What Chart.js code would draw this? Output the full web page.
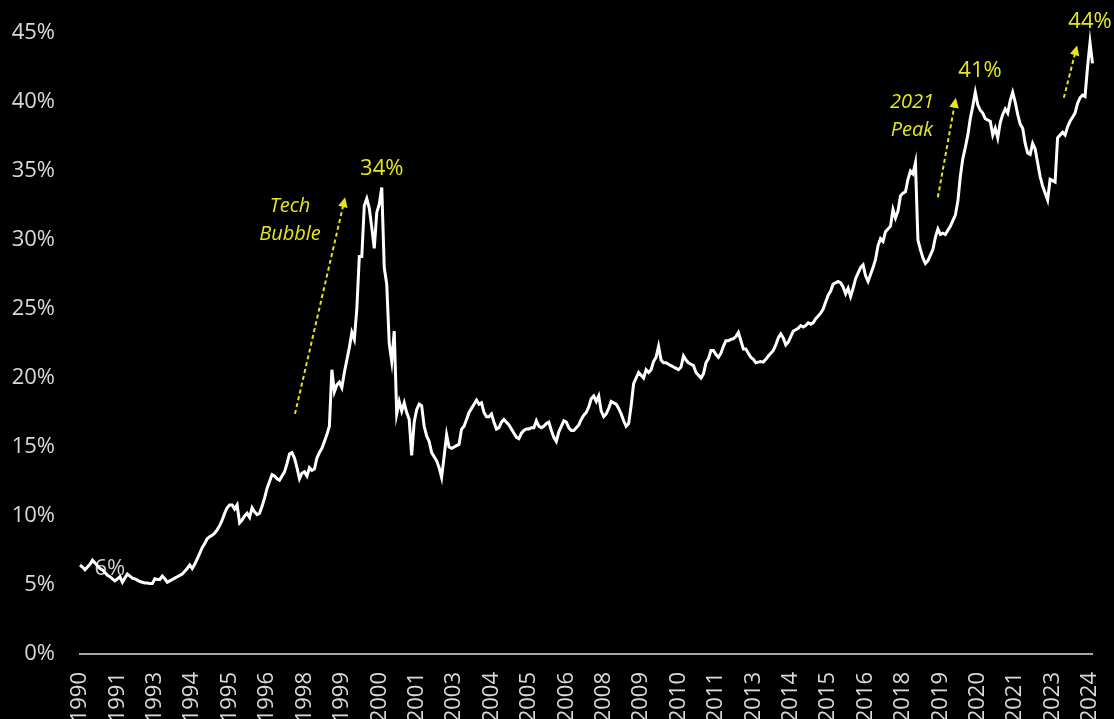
<!DOCTYPE html>
<html lang="en">
  <head>
    <meta charset="UTF-8" />
    <meta name="viewport" content="width=device-width, initial-scale=1.0" />
    <script src="https://cdn.jsdelivr.net/npm/chart.js"></script>
    <title>Share chart</title>
    <style>
      html, body { margin: 0; padding: 0; background: #000; overflow: hidden; }
      #wrap { width: 1114px; height: 730px; position: relative; }
    </style>
  </head>
  <body>
    <div id="wrap"><canvas id="myChart"></canvas></div>
    <script>
      // monthly values (%) starting Jul 1990
      const startYear = 1990;
      const startMonth = 6; // 0 = Jan
      const labelEvery = 15;

      const share1990s = [
        6.45, 6.3, 6.1, 6.3, 6.5, 6.8, 6.6, 6.4, 6.2, 6.1,
        5.9, 5.7, 5.6, 5.45, 5.3, 5.45, 5.6, 5.2, 5.5, 5.8,
        5.65, 5.5, 5.45, 5.35, 5.25, 5.2, 5.15, 5.15, 5.1, 5.1,
        5.45, 5.4, 5.4, 5.65, 5.45, 5.2, 5.3, 5.4, 5.5, 5.6,
        5.7, 5.8, 6.0, 6.2, 6.45, 6.2, 6.5, 6.9, 7.3, 7.7,
        8.0, 8.35, 8.5, 8.6, 8.75, 9.0, 9.3, 9.7, 10.2, 10.6,
        10.8, 10.8, 10.5, 10.8, 9.5, 9.7, 10.0, 10.2, 9.9, 10.6,
        10.3, 10.1, 10.2, 10.7, 11.3, 12.0, 12.5, 13.0, 12.9, 12.7,
        12.6, 12.9, 13.2, 13.8, 14.5, 14.6, 14.2, 13.5, 12.7, 13.1,
        13.2, 12.9, 13.5, 13.3, 13.4, 14.2, 14.6, 14.9, 15.4, 15.9,
        16.5, 20.6, 19.0, 19.5, 19.7, 19.3, 20.4, 21.3, 22.2, 23.3,
        22.8, 25.0, 28.8, 28.8
      ];
      const share2000s = [
        32.5, 33.0, 32.3, 30.9, 29.4, 32.0,
        32.6, 33.8, 28.0, 26.8, 22.5, 21.2, 23.4, 17.4, 18.3, 17.6,
        18.2, 17.5, 17.0, 14.4, 16.8, 17.7, 18.1, 18.0, 16.5, 15.8,
        15.4, 14.6, 14.3, 14.0, 13.5, 12.8, 14.3, 15.9, 15.0, 14.9,
        15.0, 15.1, 15.2, 16.3, 16.5, 17.0, 17.5, 17.8, 18.1, 18.4,
        18.1, 18.2, 17.5, 17.2, 17.2, 17.4, 16.8, 16.3, 16.4, 16.8,
        17.0, 16.8, 16.6, 16.3, 16.0, 15.7, 15.6, 16.0, 16.2, 16.3,
        16.3, 16.4, 16.4, 16.9, 16.5, 16.4, 16.5, 16.7, 16.8, 16.2,
        15.7, 15.4, 16.1, 16.5, 16.9, 16.8, 16.4, 16.2, 16.2, 16.4,
        16.6, 17.0, 17.3, 17.5, 17.9, 18.5, 18.7, 18.3, 18.7, 17.6,
        17.2, 17.4, 17.8, 18.3, 18.2, 18.1, 17.8, 17.4, 16.9, 16.5,
        16.7, 18.0, 19.6, 20.0, 20.4, 20.2, 20.0, 20.6, 20.4, 20.6,
        21.2, 21.5, 22.3, 21.3
      ];
      const share2010s = [
        21.1, 21.1, 21.0, 20.9, 20.8, 20.7,
        20.6, 20.8, 21.6, 21.3, 21.1, 21.0, 20.9, 20.4, 20.2, 20.0,
        20.3, 21.1, 21.4, 22.0, 22.0, 21.7, 21.5, 21.8, 22.3, 22.7,
        22.7, 22.8, 22.85, 23.0, 23.3, 22.7, 22.1, 22.1, 21.8, 21.5,
        21.35, 21.1, 21.15, 21.2, 21.15, 21.35, 21.6, 21.8, 22.0, 22.4,
        22.9, 23.2, 22.9, 22.4, 22.6, 23.0, 23.4, 23.5, 23.6, 23.8,
        23.7, 23.8, 24.0, 23.9, 24.0, 24.3, 24.5, 24.7, 25.0, 25.5,
        26.0, 26.3, 26.8, 26.9, 27.0, 26.9, 26.6, 26.1, 26.5, 25.9,
        26.5, 27.2, 27.6, 28.0, 28.2, 27.4, 27.0, 27.5, 28.0, 28.6,
        29.6, 30.1, 29.9, 30.6, 30.8, 31.0, 32.2, 31.6, 32.1, 33.2,
        33.4, 33.5, 34.4, 35.0, 34.8, 35.6, 30.0, 29.3, 28.7, 28.3,
        28.5, 28.9, 29.3, 30.2, 30.8, 30.4, 30.5, 30.4, 30.7, 31.0,
        31.4, 31.8, 32.8, 34.6
      ];
      const share2020s = [
        35.9, 36.7, 37.6, 38.8, 39.7, 40.7,
        39.8, 39.4, 39.2, 38.8, 38.7, 38.6, 37.6, 38.1, 37.4, 38.5,
        39.1, 39.5, 39.2, 40.1, 40.7, 40.0, 39.1, 38.4, 38.1, 37.0,
        36.3, 36.2, 37.0, 36.6, 35.6, 34.6, 33.9, 33.4, 32.9, 34.4,
        34.3, 34.2, 37.4, 37.6, 37.8, 37.6, 38.2, 38.6, 38.9, 39.2,
        39.9, 40.3, 40.5, 40.4, 42.5, 44.3, 42.8
      ];
      const values = share1990s.concat(share2000s, share2010s, share2020s);

      const labels = [];
      for (let k = 0; k < values.length; k++) {
        labels.push(String(startYear + Math.floor((startMonth + k) / 12)));
      }

      // annotations, placed in data units (month index, percent)
      const notes = [
        { lines: ["34%"], i: 121, v: 35.2, italic: false },
        { lines: ["Tech", "Bubble"], i: 84.2, v: 31.4, italic: true },
        { lines: ["41%"], i: 360.9, v: 42.3, italic: false },
        { lines: ["2021", "Peak"], i: 333.6, v: 39.0, italic: true },
        { lines: ["44%"], i: 405, v: 45.8, italic: false }
      ];
      const arrows = [
        { i0: 86.2, v0: 17.4, i1: 106.3, v1: 33.1 },
        { i0: 344, v0: 33.1, i1: 351.2, v1: 40.3 },
        { i0: 394.5, v0: 40.3, i1: 399.8, v1: 44.1 }
      ];
      const startNote = { text: "6%", i: 12, v: 6.2 };

      const yellow = "#e6e619";
      const grey = "#d9d9d9";
      const fam = '"Open Sans", sans-serif';

      const notesPlugin = {
        id: "notes",
        beforeDatasetsDraw(chart) {
          const { ctx, scales } = chart;
          ctx.save();
          ctx.fillStyle = "#cfcfcf";
          ctx.font = "22px " + fam;
          ctx.textAlign = "center";
          ctx.textBaseline = "middle";
          ctx.fillText(startNote.text, scales.x.getPixelForValue(startNote.i), scales.y.getPixelForValue(startNote.v));
          ctx.restore();
        },
        afterDatasetsDraw(chart) {
          const { ctx, scales } = chart;
          const x = scales.x, y = scales.y;
          ctx.save();
          ctx.fillStyle = yellow;
          ctx.strokeStyle = yellow;
          ctx.textAlign = "center";
          ctx.textBaseline = "middle";
          notes.forEach((n) => {
            ctx.font = (n.italic ? "italic 20px " : "22px ") + fam;
            const px = x.getPixelForValue(n.i);
            const py = y.getPixelForValue(n.v);
            const lh = 28;
            n.lines.forEach((t, k) => {
              ctx.fillText(t, px, py + (k - (n.lines.length - 1) / 2) * lh);
            });
          });
          arrows.forEach((a) => {
            const x0 = x.getPixelForValue(a.i0), y0 = y.getPixelForValue(a.v0);
            const x1 = x.getPixelForValue(a.i1), y1 = y.getPixelForValue(a.v1);
            const ang = Math.atan2(y1 - y0, x1 - x0);
            const head = 11;
            ctx.lineWidth = 2;
            ctx.setLineDash([4, 3]);
            ctx.beginPath();
            ctx.moveTo(x0, y0);
            ctx.lineTo(x1 - Math.cos(ang) * head * 0.8, y1 - Math.sin(ang) * head * 0.8);
            ctx.stroke();
            ctx.setLineDash([]);
            ctx.beginPath();
            ctx.moveTo(x1, y1);
            ctx.lineTo(x1 - head * Math.cos(ang - 0.45), y1 - head * Math.sin(ang - 0.45));
            ctx.lineTo(x1 - head * Math.cos(ang + 0.45), y1 - head * Math.sin(ang + 0.45));
            ctx.closePath();
            ctx.fill();
          });
          ctx.restore();
        }
      };

      new Chart(document.getElementById("myChart"), {
        type: "line",
        data: {
          labels: labels,
          datasets: [
            {
              data: values,
              borderColor: "#ffffff",
              borderWidth: 3,
              pointRadius: 0,
              tension: 0,
              clip: false
            }
          ]
        },
        options: {
          responsive: true,
          maintainAspectRatio: false,
          animation: false,
          layout: { padding: { left: 8, right: 0, top: 33, bottom: 0 } },
          plugins: { legend: { display: false }, tooltip: { enabled: false } },
          scales: {
            x: {
              grid: { display: false, drawTicks: false },
              border: { display: true, color: "#a6a6a6", width: 2 },
              afterFit: (s) => {
                s.height = 76;
                s.paddingLeft = 0;
                s.paddingRight = 21.5;
              },
              ticks: {
                color: grey,
                font: { family: fam, size: 22 },
                autoSkip: false,
                minRotation: 90,
                maxRotation: 90,
                padding: 18,
                callback: function (val, idx) {
                  return idx % labelEvery === 0 ? this.getLabelForValue(val) : "";
                }
              }
            },
            y: {
              min: 0,
              max: 45,
              grid: { display: false, drawTicks: false },
              border: { display: false },
              afterFit: (s) => {
                s.width = 72;
                s.paddingTop = 0;
                s.paddingBottom = 0;
              },
              ticks: {
                stepSize: 5,
                color: grey,
                padding: 25,
                font: { family: fam, size: 22 },
                callback: (v) => v + "%"
              }
            }
          }
        },
        plugins: [notesPlugin]
      });
    </script>
  </body>
</html>
